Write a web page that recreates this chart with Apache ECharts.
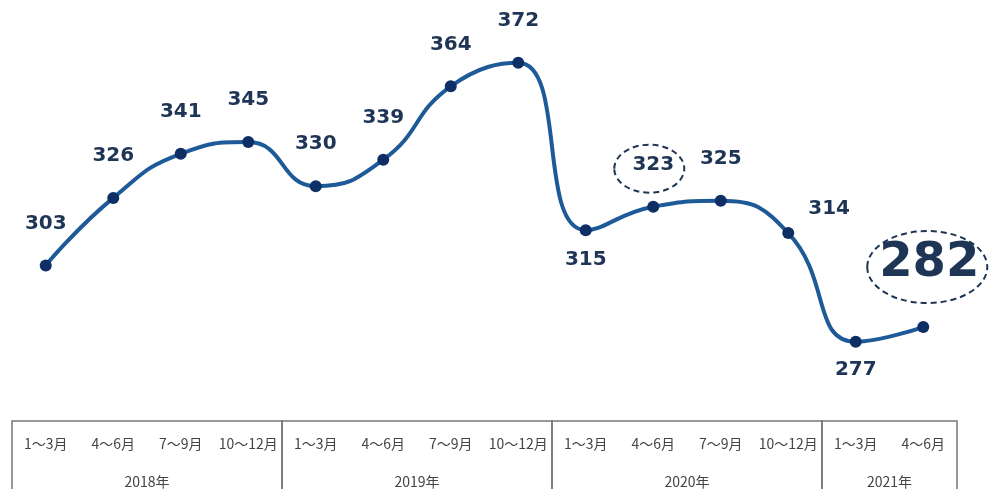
<!DOCTYPE html>
<html>
<head>
<meta charset="utf-8">
<script src="https://cdn.jsdelivr.net/npm/echarts@6/dist/echarts.min.js"></script>
<style>
  html, body { margin: 0; padding: 0; background: #fff; }
  #chart { width: 989px; height: 489px; }
</style>
</head>
<body>
<div id="chart"></div>
<script>
// 四半期ごとの数値
const quarters = ['1～3月', '4～6月', '7～9月', '10～12月',
  '1～3月', '4～6月', '7～9月', '10～12月',
  '1～3月', '4～6月', '7～9月', '10～12月',
  '1～3月', '4～6月'];
const values = [303, 326, 341, 345, 330, 339, 364, 372, 315, 323, 325, 314, 277, 282];
const years = ['2018年', '2019年', '2020年', '2021年'];
const yearStart = [0, 4, 8, 12];
const yearEnd = [4, 8, 12, 14];

const labelColor = '#1f3556';

// ラベル位置の調整（index -> style）
const labelTweaks = {
  8: { position: 'bottom', distance: 14 },
  11: { position: 'right', distance: 14, offset: [0, -24] },
  12: { position: 'bottom', distance: 12 },
  13: { position: 'top', distance: 34, fontSize: 48, offset: [6, 0] }
};

const seriesData = values.map((v, i) => {
  const t = labelTweaks[i];
  return t ? { value: v, label: t } : v;
});

const yearBoxes = years.map((y, i) => [yearStart[i], yearEnd[i]]);

const chart = echarts.init(document.getElementById('chart'));
chart.setOption({
  animation: false,
  grid: [
    { left: 12, right: 32, top: 10, bottom: 68 },
    { left: 12, right: 32, top: 421, bottom: 0 }
  ],
  xAxis: [
    {
      type: 'category',
      gridIndex: 0,
      data: quarters,
      boundaryGap: true,
      axisLine: { show: false },
      axisTick: { show: false },
      axisLabel: {
        interval: 0,
        margin: 16,
        fontSize: 14,
        color: '#444',
        fontFamily: '"Noto Sans CJK JP", sans-serif'
      }
    },
    { type: 'value', gridIndex: 1, min: 0, max: 14, show: false }
  ],
  yAxis: [
    { type: 'value', gridIndex: 0, min: 250, max: 390, show: false },
    { type: 'value', gridIndex: 1, min: 0, max: 1, inverse: true, show: false }
  ],
  series: [
    {
      type: 'line',
      xAxisIndex: 0,
      yAxisIndex: 0,
      data: seriesData,
      smooth: 0.5,
      symbol: 'circle',
      symbolSize: 12,
      lineStyle: { color: '#1f5a98', width: 4 },
      itemStyle: { color: '#0d2f66' },
      label: {
        show: true,
        position: 'top',
        distance: 26,
        fontSize: 20,
        fontWeight: 'bold',
        color: labelColor,
        fontFamily: '"DejaVu Sans", Verdana, sans-serif'
      },
      z: 3
    },
    {
      type: 'custom',
      xAxisIndex: 1,
      yAxisIndex: 1,
      data: yearBoxes,
      encode: { x: [0, 1] },
      renderItem: function (params, api) {
        const p0 = api.coord([api.value(0), 0]);
        const p1 = api.coord([api.value(1), 1]);
        return {
          type: 'group',
          children: [
            {
              // 表の枠（下辺は画面外まで伸ばす）
              type: 'rect',
              shape: { x: p0[0], y: p0[1], width: p1[0] - p0[0], height: p1[1] - p0[1] + 40 },
              style: { fill: 'none', stroke: '#777', lineWidth: 1.5 }
            },
            {
              type: 'text',
              style: {
                text: years[params.dataIndex],
                x: (p0[0] + p1[0]) / 2,
                y: p0[1] + 61,
                align: 'center',
                verticalAlign: 'middle',
                fontSize: 14,
                fill: '#444',
                fontFamily: '"Noto Sans CJK JP", sans-serif'
              }
            }
          ]
        };
      }
    }
  ]
});

// 強調の点線楕円
function ellipseAt(idx, dx, dy, rx, ry) {
  const p = chart.convertToPixel({ seriesIndex: 0 }, [idx, values[idx]]);
  return {
    type: 'ellipse',
    shape: { cx: p[0] + dx, cy: p[1] + dy, rx: rx, ry: ry },
    style: { fill: 'none', stroke: '#1f3556', lineWidth: 2, lineDash: [6, 4] },
    z: 10
  };
}
chart.setOption({
  graphic: [
    ellipseAt(9, -4, -38, 35, 24),
    ellipseAt(13, 4, -60, 60, 36)
  ]
});
</script>
</body>
</html>
